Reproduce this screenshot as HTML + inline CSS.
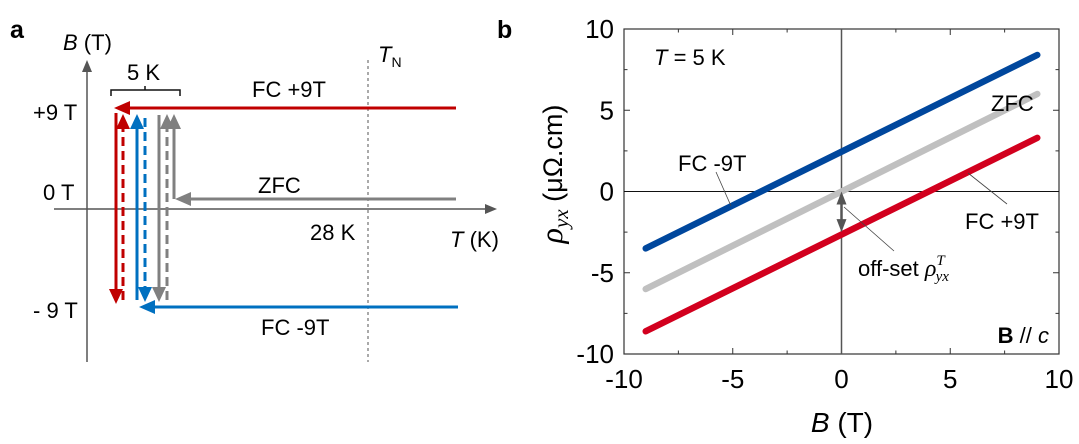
<!DOCTYPE html>
<html><head><meta charset="utf-8"><style>
body{margin:0;background:#fff;}
svg{display:block;font-family:"Liberation Sans",Arial,sans-serif;}
</style></head><body>
<svg width="1079" height="444" viewBox="0 0 1079 444">
<!-- Panel a -->
<g>
<text x="10" y="38" font-size="25" font-weight="bold">a</text>
<line x1="87" y1="362" x2="87" y2="66" stroke="#555" stroke-width="1.5"/>
<polygon points="87,60 82,72 92,72" fill="#555"/>
<line x1="54" y1="209" x2="490" y2="209" stroke="#555" stroke-width="1.5"/>
<polygon points="497,209 485,204 485,214" fill="#555"/>
<line x1="368" y1="60" x2="368" y2="362" stroke="#555" stroke-width="1" stroke-dasharray="3,3"/>
<text x="63" y="50" font-size="22"><tspan font-style="italic">B</tspan> (T)</text>
<text x="378" y="62" font-size="22" font-style="italic">T<tspan font-size="14" font-style="normal" dy="5">N</tspan></text>
<text x="127" y="80" font-size="22">5 K</text>
<path d="M111,96 V90 H180 V96 M145,90 V86" stroke="#111" stroke-width="1.5" fill="none"/>
<text x="252" y="97" font-size="22">FC +9T</text>
<text x="33" y="120" font-size="22">+9 T</text>
<text x="43" y="200" font-size="22">0 T</text>
<text x="258" y="193" font-size="22">ZFC</text>
<text x="310" y="240" font-size="22">28 K</text>
<text x="450" y="247" font-size="22"><tspan font-style="italic">T</tspan> (K)</text>
<text x="33" y="318" font-size="22">- 9 T</text>
<text x="261" y="335" font-size="22">FC -9T</text>
<line x1="456" y1="108" x2="126" y2="108" stroke="#c00000" stroke-width="3"/>
<polygon points="114,108 130,101 130,115" fill="#c00000"/>
<line x1="458" y1="307" x2="150" y2="307" stroke="#0070c0" stroke-width="3"/>
<polygon points="139,307 155,300 155,314" fill="#0070c0"/>
<line x1="456" y1="199" x2="186" y2="199" stroke="#808080" stroke-width="3"/>
<polygon points="175,199 191,192 191,206" fill="#808080"/>
<line x1="116" y1="113" x2="116" y2="290" stroke="#c00000" stroke-width="3"/>
<polygon points="116,304 109,289 123,289" fill="#c00000"/>
<line x1="123" y1="300" x2="123" y2="128" stroke="#c00000" stroke-width="3" stroke-dasharray="9,5"/>
<polygon points="123,114 116,129 130,129" fill="#c00000"/>
<line x1="137" y1="300" x2="137" y2="128" stroke="#0070c0" stroke-width="3"/>
<polygon points="137,114 130,129 144,129" fill="#0070c0"/>
<line x1="145" y1="118" x2="145" y2="288" stroke="#0070c0" stroke-width="3" stroke-dasharray="9,5"/>
<polygon points="145,302 138,287 152,287" fill="#0070c0"/>
<line x1="159" y1="115" x2="159" y2="288" stroke="#808080" stroke-width="3"/>
<polygon points="159,302 152,287 166,287" fill="#808080"/>
<line x1="167" y1="300" x2="167" y2="128" stroke="#808080" stroke-width="3" stroke-dasharray="9,5"/>
<polygon points="167,114 160,129 174,129" fill="#808080"/>
<line x1="174" y1="199" x2="174" y2="128" stroke="#808080" stroke-width="3"/>
<polygon points="174,114 167,129 181,129" fill="#808080"/>
</g>
<text x="497" y="38" font-size="25" font-weight="bold">b</text>
<g id="chart"></g>
</svg>
<script>
const xTicks = [-10, -5, 0, 5, 10];
const yTicks = [-10, -5, 0, 5, 10];
const fields = [-9, 9];
const fcMinus = [-3.5, 8.4];
const zfc = [-6.0, 6.0];
const fcPlus = [-8.6, 3.3];
const offsetVal = -2.5;

const NS = 'http://www.w3.org/2000/svg';
const g = document.getElementById('chart');
const X0 = 624, X1 = 1059, Y0 = 354, Y1 = 29;
const xs = v => X0 + (v + 10) / 20 * (X1 - X0);
const ys = v => Y0 - (v + 10) / 20 * (Y0 - Y1);
function mk(tag, attrs, parent) {
  const e = document.createElementNS(NS, tag);
  for (const k in attrs) e.setAttribute(k, attrs[k]);
  (parent || g).appendChild(e);
  return e;
}
const frame = mk('rect', {x: X0, y: Y1, width: X1 - X0, height: Y0 - Y1, fill: 'none', stroke: '#333', 'stroke-width': 1.2});


for (let v = -10; v <= 10; v += 2.5) {
  const len = (v % 5 === 0) ? 6 : 3.5;
  mk('line', {x1: xs(v), y1: Y0, x2: xs(v), y2: Y0 - len, stroke: '#333'});
  mk('line', {x1: xs(v), y1: Y1, x2: xs(v), y2: Y1 + len, stroke: '#333'});
  mk('line', {x1: X0, y1: ys(v), x2: X0 + len, y2: ys(v), stroke: '#333'});
  mk('line', {x1: X1, y1: ys(v), x2: X1 - len, y2: ys(v), stroke: '#333'});
}
xTicks.forEach(v => {
  const t = mk('text', {x: xs(v), y: Y0 + 34, 'font-size': 26, 'text-anchor': 'middle'});
  t.textContent = v;
  
  
});
yTicks.forEach(v => {
  const t = mk('text', {x: X0 - 10, y: ys(v) + 9, 'font-size': 26, 'text-anchor': 'end'});
  t.textContent = v;
  
  
});
mk('line', {x1: X0, y1: ys(0), x2: X1, y2: ys(0), stroke: '#111', 'stroke-width': 1});
mk('line', {x1: xs(0), y1: Y1, x2: xs(0), y2: Y0, stroke: '#555', 'stroke-width': 1.5});
[[fcMinus, '#00479d', 'series-fc-minus'], [zfc, '#c0c0c0', 'series-zfc'], [fcPlus, '#d2001e', 'series-fc-plus']].forEach(([d, c, n]) => {
  const l = mk('line', {x1: xs(fields[0]), y1: ys(d[0]), x2: xs(fields[1]), y2: ys(d[1]), stroke: c, 'stroke-width': 6.5, 'stroke-linecap': 'round'});
  
  
});
const oa = mk('line', {x1: xs(0), y1: ys(0) + 12, x2: xs(0), y2: ys(offsetVal) - 12, stroke: '#555', 'stroke-width': 2.5});


mk('polygon', {points: `${xs(0)},${ys(0)} ${xs(0)-5},${ys(0)+13} ${xs(0)+5},${ys(0)+13}`, fill: '#555'});
mk('polygon', {points: `${xs(0)},${ys(offsetVal)} ${xs(0)-5},${ys(offsetVal)-13} ${xs(0)+5},${ys(offsetVal)-13}`, fill: '#555'});
mk('line', {x1: 716, y1: 172, x2: 731, y2: 206, stroke: '#444', 'stroke-width': 0.8});
mk('line', {x1: 1007, y1: 204, x2: 968, y2: 173, stroke: '#444', 'stroke-width': 0.8});
mk('line', {x1: 894, y1: 251, x2: 844, y2: 207, stroke: '#444', 'stroke-width': 0.8});
function lab(x, y, html, size, name, anchor) {
  const t = mk('text', {x: x, y: y, 'font-size': size, 'text-anchor': anchor || 'start'});
  t.innerHTML = html;
  
  
  return t;
}
lab(654, 65, '<tspan font-style="italic">T</tspan> = 5 K', 22, 'temperature-label');
lab(678, 171, 'FC -9T', 22, 'fc-minus-annotation');
lab(991, 111, 'ZFC', 22, 'zfc-annotation');
lab(965, 229, 'FC +9T', 22, 'fc-plus-annotation');
lab(858, 276, 'off-set <tspan font-family="Liberation Serif" font-style="italic" font-size="24">ρ</tspan><tspan font-family="Liberation Serif" font-style="italic" font-size="15" dy="-11">T</tspan><tspan font-family="Liberation Serif" font-style="italic" font-size="15" dx="-8" dy="16">yx</tspan>', 22, 'offset-annotation');
lab(1049, 343, '<tspan font-weight="bold">B</tspan> // <tspan font-style="italic">c</tspan>', 22, 'field-direction-label', 'end');
lab(842, 432, '<tspan font-style="italic">B</tspan> (T)', 28, 'x-axis-title', 'middle');
const yt = lab(0, 0, '<tspan font-family="Liberation Serif" font-style="italic" font-size="32">ρ</tspan><tspan font-family="Liberation Serif" font-style="italic" font-size="21" dy="6">yx</tspan><tspan dy="-6"> (μΩ.cm)</tspan>', 27, 'y-axis-title', 'middle');
yt.setAttribute('transform', 'translate(562,174) rotate(-90)');
</script>
</body></html>
